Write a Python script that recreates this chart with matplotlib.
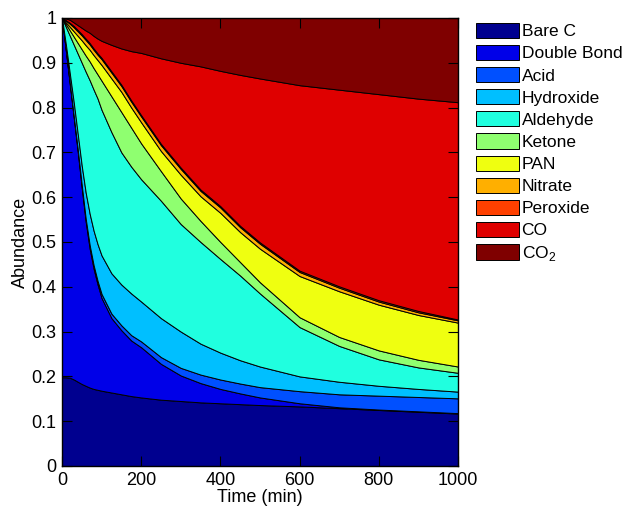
import matplotlib
matplotlib.use("Agg")
import matplotlib.pyplot as plt
import numpy as np

plt.rcParams['font.family'] = ['Liberation Sans', 'DejaVu Sans']
plt.rcParams['mathtext.fontset'] = 'custom'
plt.rcParams['mathtext.rm'] = 'Liberation Sans'

# time axis (min)
time = [0, 10, 20, 30, 40, 50, 60, 70, 80, 90, 100, 125, 150, 175, 200,
        250, 300, 350, 400, 450, 500, 600, 700, 800, 900, 1000]

# abundance of each group
bare_c      = [0.198, 0.198, 0.197, 0.193, 0.188, 0.183, 0.179, 0.175, 0.172, 0.170, 0.168, 0.164, 0.160,
               0.156, 0.153, 0.148, 0.145, 0.142, 0.140, 0.138, 0.136, 0.133, 0.129, 0.125, 0.121, 0.117]
double_bond = [0.802, 0.727, 0.653, 0.582, 0.512, 0.437, 0.366, 0.310, 0.268, 0.235, 0.207, 0.166, 0.143,
               0.124, 0.112, 0.080, 0.057, 0.043, 0.032, 0.024, 0.017, 0.007, 0.002, 0.001, 0.001, 0.001]
acid        = [0.000, 0.002, 0.004, 0.005, 0.006, 0.007, 0.007, 0.008, 0.008, 0.008, 0.009, 0.010, 0.011,
               0.012, 0.013, 0.015, 0.017, 0.019, 0.021, 0.022, 0.023, 0.027, 0.029, 0.031, 0.032, 0.033]
hydroxide   = [0.000, 0.013, 0.021, 0.030, 0.034, 0.043, 0.058, 0.070, 0.077, 0.082, 0.086, 0.090, 0.091,
               0.093, 0.089, 0.087, 0.081, 0.069, 0.060, 0.052, 0.046, 0.033, 0.028, 0.022, 0.018, 0.015]
aldehyde    = [0.000, 0.040, 0.085, 0.130, 0.180, 0.230, 0.270, 0.298, 0.315, 0.325, 0.325, 0.315, 0.295,
               0.283, 0.273, 0.262, 0.240, 0.227, 0.209, 0.189, 0.163, 0.110, 0.080, 0.059, 0.048, 0.042]
ketone      = [0.000, 0.006, 0.012, 0.018, 0.024, 0.030, 0.036, 0.042, 0.048, 0.054, 0.065, 0.080, 0.090,
               0.087, 0.080, 0.066, 0.057, 0.047, 0.038, 0.030, 0.025, 0.022, 0.020, 0.020, 0.017, 0.014]
pan         = [0.000, 0.004, 0.008, 0.012, 0.016, 0.020, 0.023, 0.026, 0.029, 0.032, 0.035, 0.040, 0.045,
               0.045, 0.047, 0.045, 0.053, 0.055, 0.065, 0.067, 0.075, 0.092, 0.102, 0.102, 0.100, 0.098]
nitrate     = [0.000, 0.004, 0.007, 0.009, 0.010, 0.011, 0.012, 0.012, 0.012, 0.012, 0.013, 0.013, 0.013,
               0.013, 0.013, 0.013, 0.013, 0.012, 0.012, 0.011, 0.011, 0.009, 0.008, 0.007, 0.006, 0.005]
peroxide    = [0.000, 0.001, 0.002, 0.003, 0.003, 0.003, 0.003, 0.003, 0.003, 0.003, 0.003, 0.003, 0.003,
               0.003, 0.003, 0.003, 0.003, 0.003, 0.003, 0.003, 0.003, 0.003, 0.003, 0.003, 0.003, 0.002]
co          = [0.000, 0.004, 0.007, 0.008, 0.011, 0.014, 0.018, 0.023, 0.028, 0.033, 0.038, 0.059, 0.081,
               0.110, 0.139, 0.191, 0.234, 0.275, 0.302, 0.337, 0.366, 0.414, 0.439, 0.460, 0.474, 0.485]
co2         = [0.000, 0.001, 0.004, 0.010, 0.016, 0.022, 0.028, 0.034, 0.040, 0.046, 0.051, 0.060, 0.068,
               0.074, 0.078, 0.090, 0.100, 0.108, 0.118, 0.127, 0.135, 0.150, 0.160, 0.170, 0.180, 0.188]

labels = ['Bare C', 'Double Bond', 'Acid', 'Hydroxide', 'Aldehyde', 'Ketone',
          'PAN', 'Nitrate', 'Peroxide', 'CO', 'CO$_2$']
colores = ['#00008F', '#0000E8', '#0050FF', '#00BFFF', '#20FFDF', '#8FFF70',
           '#EFFF10', '#FFAF00', '#FF4000', '#DF0000', '#7F0000']

fig = plt.figure(figsize=(6.28, 5.07), dpi=100)
ax = fig.add_axes([0.0987, 0.0809, 0.6306, 0.8836])

ax.stackplot(time, bare_c, double_bond, acid, hydroxide, aldehyde, ketone,
             pan, nitrate, peroxide, co, co2,
             labels=labels, colors=colores, edgecolor='black', linewidth=0.7)

ax.set_xlim(0, 1000)
ax.set_ylim(0, 1)
ax.set_xticks([0, 200, 400, 600, 800, 1000])
ax.set_yticks(np.arange(0, 1.01, 0.1))
ax.set_yticklabels(['0', '0.1', '0.2', '0.3', '0.4', '0.5', '0.6', '0.7', '0.8', '0.9', '1'])
ax.tick_params(direction='in', top=True, right=True, length=7, width=0.8, labelsize=13)
ax.tick_params(axis='x', pad=4)
ax.tick_params(axis='y', pad=4)
for s in ax.spines.values():
    s.set_linewidth(1.0)

ax.set_xlabel('Time (min)', fontsize=13, labelpad=0)
ax.set_ylabel('Abundance', fontsize=13, labelpad=2)

ax.legend(loc='upper left', bbox_to_anchor=(0.758, 0.955), bbox_transform=fig.transFigure,
          frameon=False, fontsize=12.5, borderpad=0, borderaxespad=0,
          handlelength=2.45, handleheight=0.97, handletextpad=0.17, labelspacing=0.32)

fig.savefig('out.png', dpi=100)
